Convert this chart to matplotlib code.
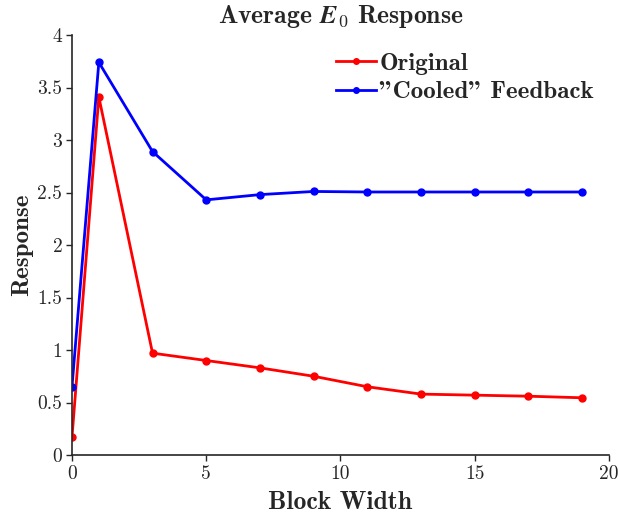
import matplotlib
matplotlib.use("Agg")
import matplotlib.pyplot as plt

block_width = [0, 1, 3, 5, 7, 9, 11, 13, 15, 17, 19]
original = [0.17, 3.41, 0.97, 0.90, 0.83, 0.75, 0.65, 0.58, 0.57, 0.56, 0.545]
cooled = [0.65, 3.74, 2.89, 2.43, 2.48, 2.51, 2.505, 2.505, 2.505, 2.505, 2.505]
x_ticks = [0, 5, 10, 15, 20]
y_ticks = [0, 0.5, 1, 1.5, 2, 2.5, 3, 3.5, 4]
y_tick_labels = ["0", "0.5", "1", "1.5", "2", "2.5", "3", "3.5", "4"]

plt.rcParams['mathtext.fontset'] = 'cm'
plt.rcParams['axes.unicode_minus'] = False

fig = plt.figure(figsize=(6.19, 5.15), dpi=100)
ax = fig.add_axes([0.1163, 0.1165, 0.8675, 0.8155])

ax.plot(block_width, original, color='#ff0000', lw=2.0, marker='o', ms=5, label='Original')
ax.plot(block_width, cooled, color='#0000ff', lw=2.0, marker='o', ms=5, label='"Cooled" Feedback')

ax.set_xlim(0, 20)
ax.set_ylim(0, 4)
ax.set_xticks(x_ticks)
ax.set_xticklabels([str(t) for t in x_ticks], fontfamily='cmr10', fontsize=14)
ax.set_yticks(y_ticks)
ax.set_yticklabels(y_tick_labels, fontfamily='cmr10', fontsize=14)
ax.tick_params(direction='out', length=4, width=1, colors='#262626', labelcolor='#262626', pad=3)
for s in ['top', 'right']:
    ax.spines[s].set_visible(False)
for s in ['left', 'bottom']:
    ax.spines[s].set_linewidth(1.2)
    ax.spines[s].set_color('#262626')

ax.set_xlabel('Block Width', fontfamily='cmb10', fontsize=18.5, color='#262626', labelpad=6)
ax.set_ylabel('Response', fontfamily='cmb10', fontsize=18, color='#262626', labelpad=3)
ax.set_title(r'Average $\mathbfit{E}_\mathbf{0}$ Response', fontfamily='cmb10', fontsize=18.5, color='#262626', pad=9)

leg = ax.legend(loc='upper right', bbox_to_anchor=(1.0, 0.995), frameon=False,
                prop={'family': ['cmb10', 'DejaVu Serif'], 'size': 18}, handlelength=1.6, handletextpad=0.15,
                labelspacing=0.25, borderaxespad=0.2)
for t in leg.get_texts():
    t.set_color('#262626')
for h in leg.legend_handles:
    h.set_markersize(4)

fig.savefig('out.png', dpi=100)
